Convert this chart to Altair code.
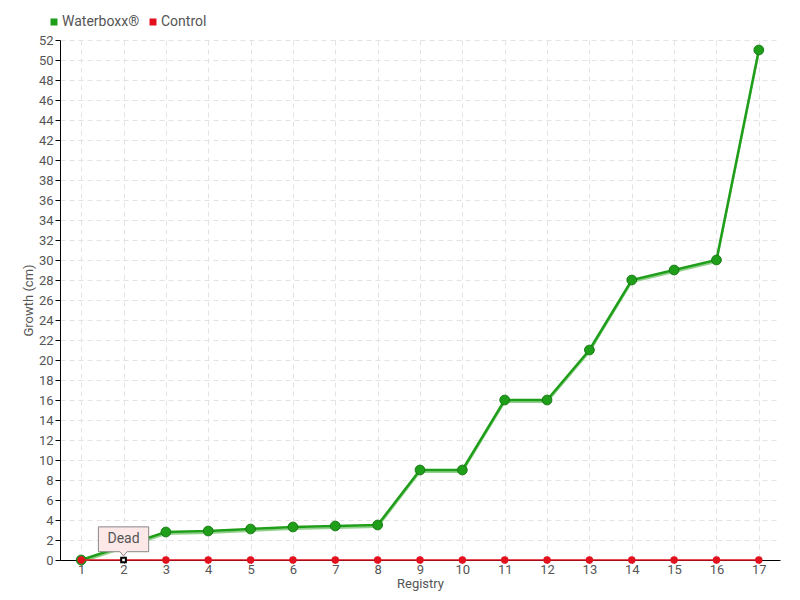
import altair as alt
import pandas as pd

registry = list(range(1, 18))
waterboxx = [0, None, 2.8, 2.9, 3.1, 3.3, 3.4, 3.5, 9, 9, 16, 16, 21, 28, 29, 30, 51]
control = [0] * 17
control_status = ["Alive", "Dead"] + ["Alive"] * 15
series_names = ["Waterboxx®", "Control"]
series_colors = ["#1f9e1a", "#e3101e"]

FONT = "Roboto, sans-serif"
FS = 14
LFS = 13

wb = pd.DataFrame({"Registry": registry, "Growth": waterboxx, "Series": series_names[0]})
ct = pd.DataFrame({"Registry": registry, "Growth": control, "Series": series_names[1], "Status": control_status})

xs = alt.Scale(domain=[0.5, 17.5], nice=False, zero=False)
ys = alt.Scale(domain=[0, 52], nice=False)
color = alt.Color("Series:N", scale=alt.Scale(domain=series_names, range=series_colors),
                  legend=alt.Legend(title=None, orient="none", legendX=-13, legendY=-25,
                                    direction="horizontal", symbolType="square", symbolSize=30,
                                    labelFont=FONT, labelFontSize=FS, labelColor="#555",
                                    columnPadding=6, labelOffset=1))

xaxis = alt.X("Registry:Q", scale=xs,
              axis=alt.Axis(title="Registry", values=registry, format="d", grid=True,
                            gridDash=[5, 4], gridColor="#e3e3e3", domainColor="#000",
                            tickColor="#000", tickSize=3, labelFont=FONT, labelFontSize=LFS,
                            labelColor="#555", titleFont=FONT, titleFontSize=LFS,
                            titleFontWeight="normal", titleColor="#555", titlePadding=1,
                            labelPadding=0))
yaxis = alt.Y("Growth:Q", scale=ys,
              axis=alt.Axis(title="Growth (cm)", values=list(range(0, 53, 2)), grid=True,
                            gridDash=[5, 4], gridColor="#e3e3e3", domainColor="#000",
                            tickColor="#000", tickSize=5, labelFont=FONT, labelFontSize=LFS,
                            labelColor="#555", titleFont=FONT, titleFontSize=LFS,
                            titleFontWeight="normal", titleColor="#555", titlePadding=3,
                            labelPadding=2))

wb_valid = alt.Chart(wb).transform_filter("isValid(datum.Growth)")

wb_shadow = wb_valid.mark_line(color="#86cc80", strokeWidth=2, opacity=0.9).encode(
    x=xaxis, y=yaxis, yOffset=alt.value(2))
wb_line = wb_valid.mark_line(strokeWidth=2.5).encode(x=xaxis, y=yaxis, color=color)
wb_pts = wb_valid.mark_point(filled=True, size=95, opacity=1, stroke="#177a14",
                             strokeWidth=1).encode(x=xaxis, y=yaxis, color=color)

ct_line = alt.Chart(ct).mark_line(strokeWidth=1.5).encode(x=xaxis, y=yaxis, color=color)
ct_pts = alt.Chart(ct).transform_filter("datum.Status == 'Alive'").mark_point(
    filled=True, size=55, opacity=1).encode(x=xaxis, y=yaxis, color=color)
ct_dead = alt.Chart(ct).transform_filter("datum.Status == 'Dead'").mark_point(
    shape="square", size=22, fill="white", stroke="black", strokeWidth=2, opacity=1,
    filled=False).encode(x=xaxis, y=yaxis)

callout_path = ("M-0.85,-1.12 L0.85,-1.12 L0.85,-0.28 L0.12,-0.28 L0,-0.14 "
                "L-0.12,-0.28 L-0.85,-0.28 Z")
dead_box = alt.Chart(ct).transform_filter("datum.Status == 'Dead'").mark_point(
    shape=callout_path, size=3500, fill="#fde8e8", stroke="#888", strokeWidth=1,
    opacity=1, filled=False).encode(x=xaxis, y=yaxis)
dead_text = alt.Chart(ct).transform_filter("datum.Status == 'Dead'").mark_text(
    font=FONT, fontSize=FS, color="#555", dy=-21).encode(x=xaxis, y=yaxis, text="Status:N")

chart = alt.layer(wb_shadow, wb_line, wb_pts, ct_line, ct_pts, ct_dead, dead_box, dead_text).properties(
    width=720, height=520,
    autosize=alt.AutoSizeParams(type="none"),
    padding={"left": 52, "top": 32, "right": 12, "bottom": 38},
).configure_view(stroke=None)

chart.save("out.html", embed_options={"renderer": "svg", "actions": False})
